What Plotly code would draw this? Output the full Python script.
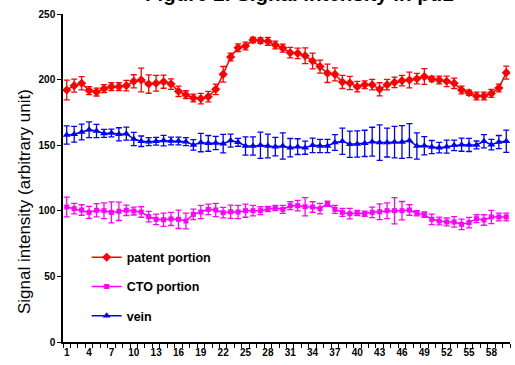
import plotly.graph_objects as go

categories = list(range(1, 61))
tick_labels = [str(v) for v in range(1, 59, 3)]

patent = [192.1, 195.4, 197.2, 191.6, 190.5, 193.1, 194.6, 194.6, 195.4, 198.7,
          199.7, 196.6, 197.2, 198.4, 196.6, 191.1, 188.5, 186.0, 185.5, 187.0,
          192.6, 204.0, 217.2, 224.3, 225.6, 230.2, 229.7, 229.2, 226.4, 224.0,
          220.5, 220.0, 218.2, 214.2, 209.9, 204.8, 204.0, 198.2, 197.4, 194.6,
          196.1, 196.1, 192.6, 196.1, 197.9, 199.2, 199.7, 200.7, 202.3, 200.5,
          199.7, 198.7, 197.2, 192.1, 190.0, 187.5, 187.5, 189.5, 193.6, 205.3]
patent_err = [7.5, 5, 5, 3, 3, 3, 3, 3, 4, 5,
              9, 7, 6, 5, 4, 4, 3, 3, 4, 4,
              4, 6, 3, 3, 3, 2, 2, 3, 3, 3,
              4, 4, 6, 6, 5, 7, 5, 5, 5, 4,
              3, 4, 5, 4, 4, 4, 6, 4, 6, 2,
              3, 4, 4, 3, 2, 3, 3, 3, 3, 5]

cto = [102.9, 101.6, 100.6, 98.8, 100.4, 100.1, 98.8, 99.6, 100.4, 99.8,
       99.1, 95.5, 93.5, 93.2, 93.8, 93.5, 92.2, 97.3, 99.1, 101.1,
       100.6, 98.6, 99.3, 99.1, 100.1, 100.1, 100.1, 101.4, 102.1, 101.1,
       103.9, 103.9, 103.1, 102.9, 101.6, 105.4, 101.1, 98.8, 97.8, 98.3,
       97.8, 98.8, 99.3, 100.1, 100.1, 100.1, 100.6, 98.1, 97.1, 93.5,
       92.2, 91.5, 91.5, 89.7, 91.0, 94.0, 93.0, 95.3, 95.3, 95.3]
cto_err = [7.5, 4, 4, 4.5, 5, 6, 8, 7, 4, 3,
           4, 4, 4, 5, 5, 7, 6, 4, 5, 4,
           5, 4, 5, 5, 5, 4, 3, 2, 2, 3,
           3, 4, 7, 4, 4, 2, 3, 3, 4, 2,
           2, 4, 6, 6, 10, 7, 4, 2, 2, 4,
           3, 3, 4, 4, 4, 3, 4, 5, 3, 3]

vein = [157.8, 158.3, 160.0, 161.8, 160.8, 159.0, 159.3, 158.3, 158.8, 154.7,
        153.0, 152.7, 153.0, 153.5, 153.2, 153.2, 152.7, 150.2, 152.0, 151.4,
        151.7, 151.2, 153.5, 152.2, 149.4, 149.4, 149.9, 149.4, 148.9, 149.4,
        148.1, 148.9, 148.1, 149.9, 149.4, 149.4, 152.0, 153.0, 150.7, 150.9,
        151.4, 152.7, 152.0, 152.0, 152.4, 152.4, 153.5, 149.4, 149.6, 148.6,
        148.1, 148.9, 149.9, 150.4, 150.2, 150.2, 153.0, 150.4, 152.4, 153.0]
vein_err = [7, 6, 6, 6, 5, 3, 3, 5, 5, 5,
            4, 3, 3, 4, 3, 3, 3, 4, 7, 6,
            5, 7, 5, 3, 7, 7, 10, 9, 7, 10,
            7, 6, 5, 5.5, 5, 5, 6, 10, 10, 10,
            10, 11, 13.5, 11, 12, 12.5, 13, 10, 7, 5,
            4, 5, 4, 5, 5, 3, 5, 4, 5, 8.5]

series = [
    ("patent portion", patent, patent_err, "#FF0000", "diamond", 7),
    ("CTO portion", cto, cto_err, "#FF00FF", "square", 5),
    ("vein", vein, vein_err, "#0000FF", "triangle-up", 7),
]

fig = go.Figure()
for i, (name, vals, errs, color, sym, msize) in enumerate(series):
    fig.add_trace(go.Scatter(
        x=categories, y=vals, name=name, mode="lines+markers",
        legendgroup=f"g{i}",
        line=dict(color=color, width=1.5),
        marker=dict(color=color, symbol=sym, size=msize, line=dict(width=0)),
        error_y=dict(type="data", array=errs, visible=True, color=color,
                     thickness=1.3, width=3),
    ))

font_family = "Arial, Liberation Sans, sans-serif"

fig.update_layout(
    width=515, height=365,
    margin=dict(l=63, r=5, t=14, b=23),
    paper_bgcolor="white", plot_bgcolor="white",
    font=dict(family=font_family, color="black"),
    showlegend=True,
    legend=dict(x=0.053, y=0.303, xanchor="left", yanchor="top",
                bgcolor="rgba(0,0,0,0)", tracegroupgap=10,
                font=dict(size=12.5, weight="bold", family=font_family)),
    annotations=[
        dict(text="Figure 2. Signal intensity in pt.1", xref="paper", yref="paper",
             x=(299 - 63) / 447, y=1.021, xanchor="center", yanchor="bottom",
             showarrow=False, font=dict(size=20.5, weight="bold", family=font_family)),
        dict(text="Signal intensity (arbitrary unit)", xref="paper", yref="paper",
             x=(24 - 63) / 447, y=(342 - 202) / 328, xanchor="center", yanchor="middle",
             textangle=-90, showarrow=False,
             font=dict(size=17, family=font_family)),
    ],
)

fig.update_xaxes(
    range=[0.5, 60.5], tickmode="array",
    tickvals=[int(t) for t in tick_labels], ticktext=tick_labels,
    ticks="outside", ticklen=0, showgrid=False, zeroline=False,
    showline=True, linecolor="black", linewidth=1.5,
    tickfont=dict(size=10, weight="bold", family=font_family),
    minor=dict(tickmode="linear", tick0=0.5, dtick=1, ticks="outside",
               ticklen=4, tickcolor="black", tickwidth=1, showgrid=False),
)
fig.update_yaxes(
    range=[0, 250], tickvals=[0, 50, 100, 150, 200, 250],
    ticks="outside", ticklen=4, tickcolor="black", tickwidth=1,
    showgrid=False, zeroline=False,
    showline=True, linecolor="black", linewidth=1.5,
    tickfont=dict(size=10, weight="bold", family=font_family),
)

fig.write_html("out.html", config={"displayModeBar": False},
               post_script="document.body.style.margin='0';")
